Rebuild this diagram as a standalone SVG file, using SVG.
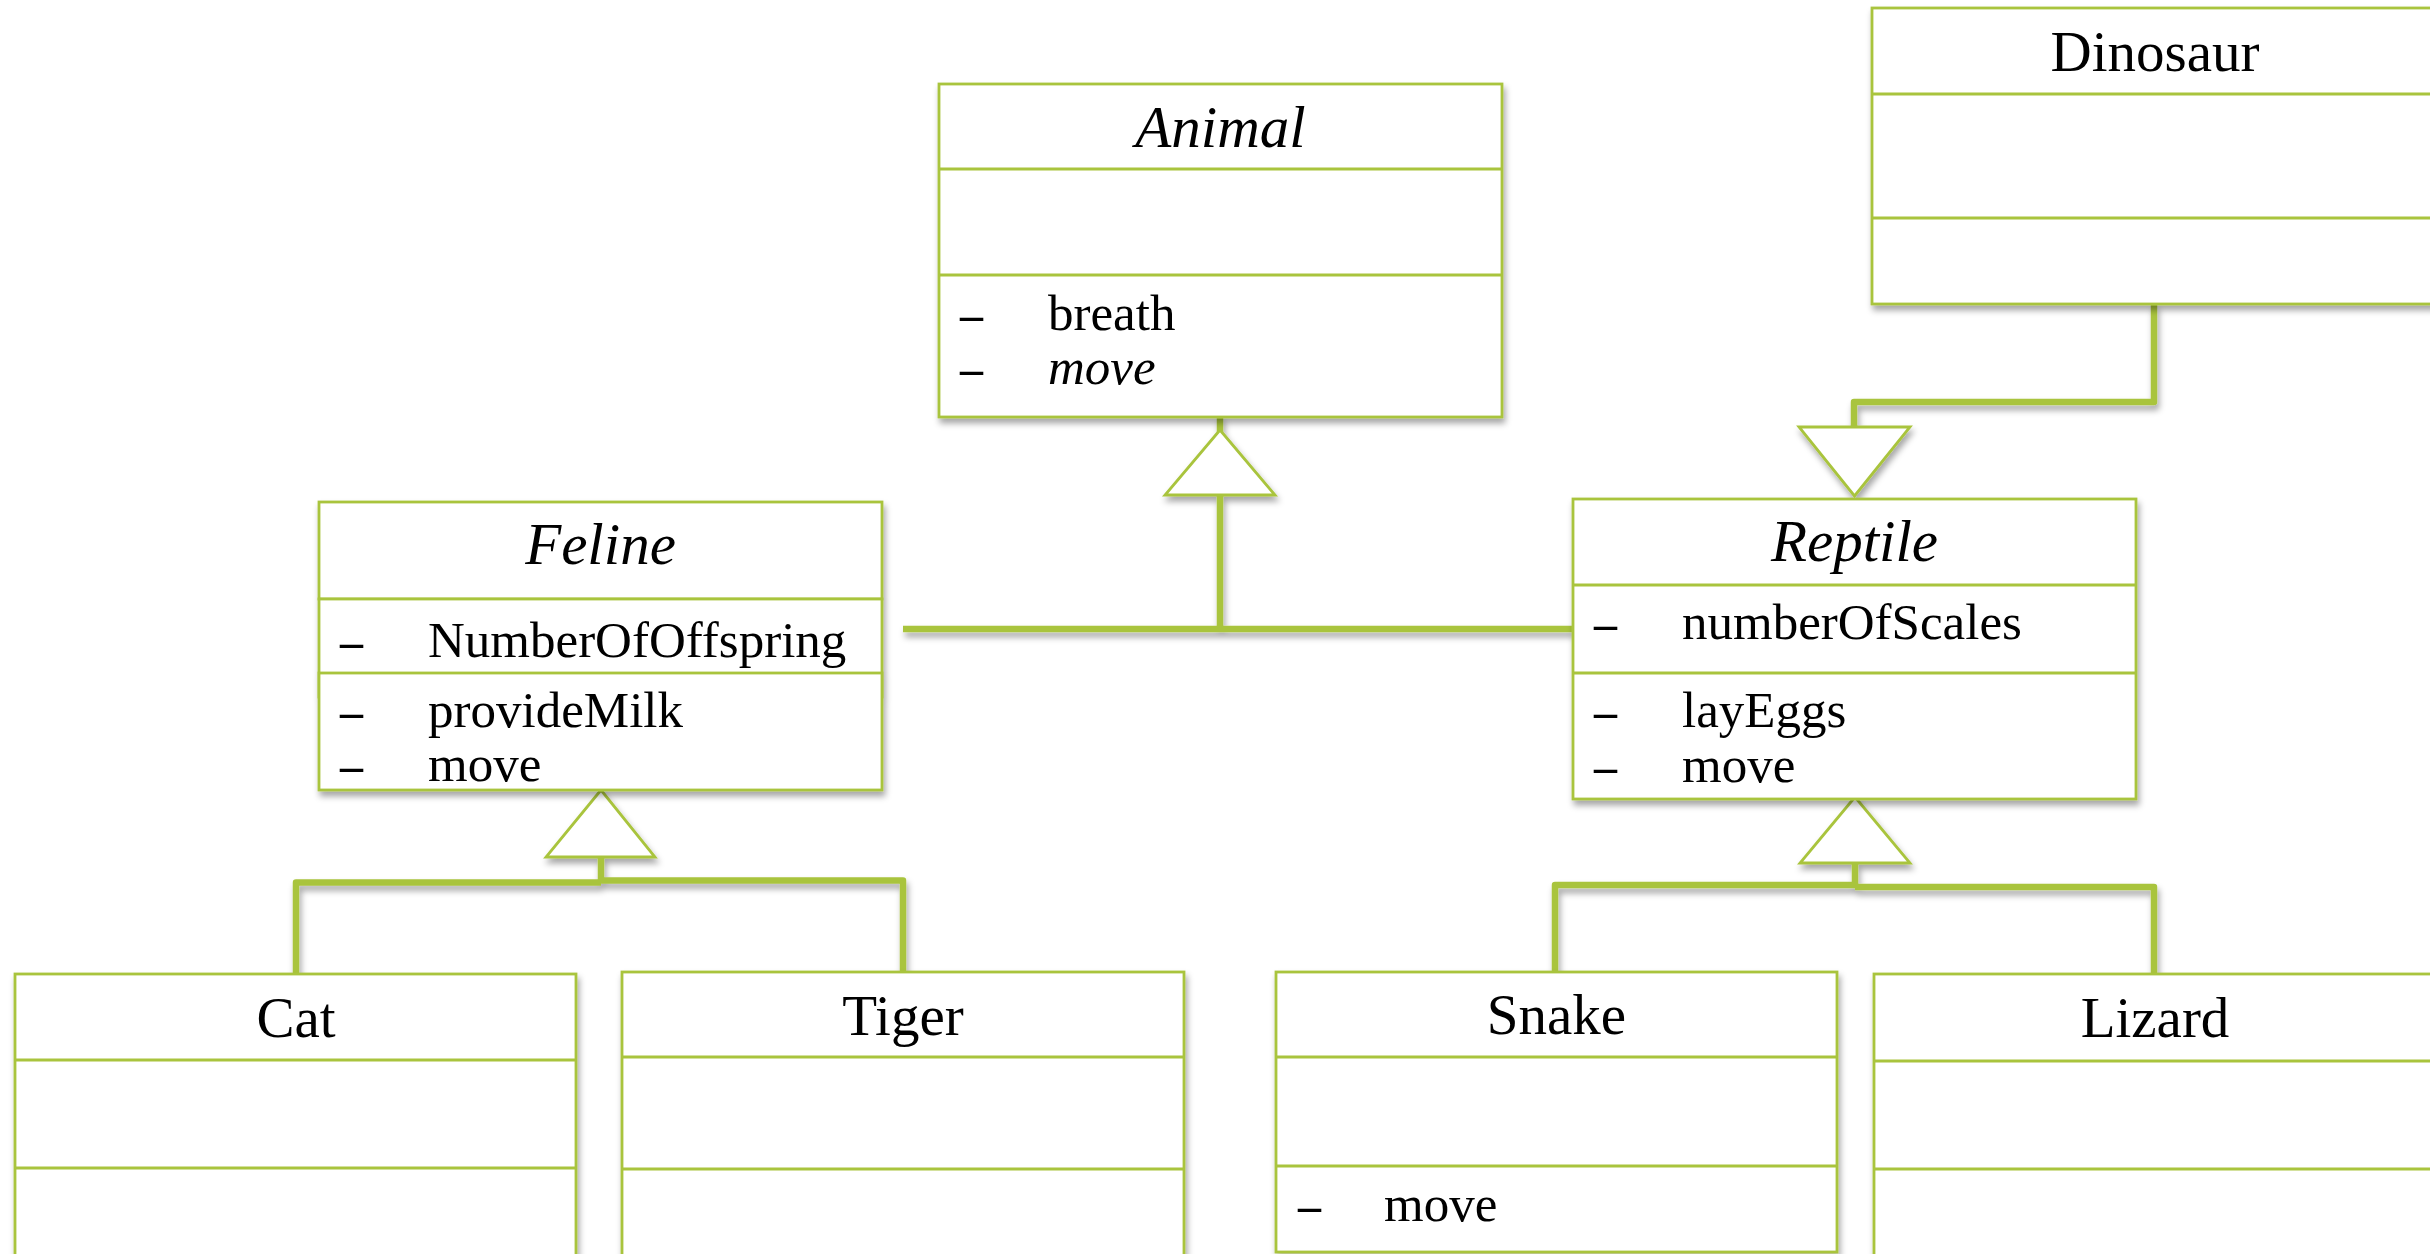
<svg xmlns="http://www.w3.org/2000/svg" width="2430" height="1254" viewBox="0 0 2430 1254">
  <defs>
    <filter id="shadow" x="-10%" y="-10%" width="120%" height="130%">
      <feDropShadow dx="2" dy="5" stdDeviation="3" flood-color="#000" flood-opacity="0.35"/>
    </filter>
    <style>
      .box { fill: #fff; stroke: #a9c43c; stroke-width: 2.8; }
      .div { stroke: #a9c43c; stroke-width: 3; }
      .wire { fill: none; stroke: #a9c43c; stroke-width: 6.5; stroke-linejoin: round; }
      .tri { fill: #fff; stroke: #a9c43c; stroke-width: 2.8; stroke-linejoin: miter; }
      .title { font-family: "Liberation Serif", "Times New Roman", serif; font-size: 57px; text-anchor: middle; fill: #000; }
      .abs { font-style: italic; font-size: 59px; }
      .mem { font-family: "Liberation Serif", "Times New Roman", serif; font-size: 51px; fill: #000; }
      .dash { font-weight: bold; font-size: 46px; }
    </style>
  </defs>

  <rect width="2430" height="1254" fill="#fff"/>

  <!-- generalization connectors -->
  <g id="connectors" filter="url(#shadow)">
    <!-- Feline / Reptile to Animal -->
    <path class="wire" d="M1220,416 V432"/>
    <path class="wire" d="M1220,494 V629 M903,629 H1573"/>
    <polygon class="tri" points="1220,430 1165,495 1275,495"/>
    <!-- Cat / Tiger to Feline -->
    <path class="wire" d="M601,856 V882 M296,974 V882.5 H601 M903,972 V880.5 H601"/>
    <polygon class="tri" points="601,790 546,857 655,857"/>
    <!-- Snake / Lizard to Reptile -->
    <path class="wire" d="M1855,862 V886 M1555,972 V885 H1855 M2154,974 V887 H1855"/>
    <polygon class="tri" points="1855,797 1800,863 1910,863"/>
    <!-- Dinosaur to Reptile -->
    <path class="wire" d="M2154,304 V402 H1854 V429"/>
    <polygon class="tri" points="1799,427 1910,427 1854.5,496"/>
  </g>

  <!-- Animal -->
  <g id="animal" filter="url(#shadow)">
    <rect class="box" x="939" y="84" width="563" height="333"/>
    <line class="div" x1="939" y1="169" x2="1502" y2="169"/>
    <line class="div" x1="939" y1="275" x2="1502" y2="275"/>
    <text class="title abs" x="1220.5" y="147">Animal</text>
    <text class="mem dash" x="960" y="330">–</text>
    <text class="mem" x="1048" y="330">breath</text>
    <text class="mem dash" x="960" y="384">–</text>
    <text class="mem" x="1048" y="384" font-style="italic">move</text>
  </g>

  <!-- Dinosaur -->
  <g id="dinosaur" filter="url(#shadow)">
    <rect class="box" x="1872" y="8" width="566" height="296"/>
    <line class="div" x1="1872" y1="94" x2="2438" y2="94"/>
    <line class="div" x1="1872" y1="218" x2="2438" y2="218"/>
    <text class="title" x="2155" y="71">Dinosaur</text>
  </g>

  <!-- Feline -->
  <g id="feline" filter="url(#shadow)">
    <rect class="box" x="319" y="502" width="563" height="97"/>
    <rect class="box" x="319" y="599" width="563" height="98"/>
    <rect class="box" x="319" y="673" width="563" height="117"/>
    <text class="title abs" x="600.5" y="564" font-size="58">Feline</text>
    <text class="mem dash" x="340" y="657">–</text>
    <text class="mem" x="428" y="657">NumberOfOffspring</text>
    <text class="mem dash" x="340" y="727">–</text>
    <text class="mem" x="428" y="727">provideMilk</text>
    <text class="mem dash" x="340" y="781">–</text>
    <text class="mem" x="428" y="781">move</text>
  </g>

  <!-- Reptile -->
  <g id="reptile" filter="url(#shadow)">
    <rect class="box" x="1573" y="499" width="563" height="300"/>
    <line class="div" x1="1573" y1="585" x2="2136" y2="585"/>
    <line class="div" x1="1573" y1="673" x2="2136" y2="673"/>
    <text class="title abs" x="1854.5" y="561" font-size="58">Reptile</text>
    <text class="mem dash" x="1594" y="639">–</text>
    <text class="mem" x="1682" y="639">numberOfScales</text>
    <text class="mem dash" x="1594" y="727">–</text>
    <text class="mem" x="1682" y="727">layEggs</text>
    <text class="mem dash" x="1594" y="782">–</text>
    <text class="mem" x="1682" y="782">move</text>
  </g>

  <!-- Cat -->
  <g id="cat" filter="url(#shadow)">
    <rect class="box" x="15" y="974" width="561" height="320"/>
    <line class="div" x1="15" y1="1060" x2="576" y2="1060"/>
    <line class="div" x1="15" y1="1168" x2="576" y2="1168"/>
    <text class="title" x="296" y="1037">Cat</text>
  </g>

  <!-- Tiger -->
  <g id="tiger" filter="url(#shadow)">
    <rect class="box" x="622" y="972" width="562" height="320"/>
    <line class="div" x1="622" y1="1057" x2="1184" y2="1057"/>
    <line class="div" x1="622" y1="1169" x2="1184" y2="1169"/>
    <text class="title" x="903" y="1035">Tiger</text>
  </g>

  <!-- Snake -->
  <g id="snake" filter="url(#shadow)">
    <rect class="box" x="1276" y="972" width="561" height="280"/>
    <line class="div" x1="1276" y1="1057" x2="1837" y2="1057"/>
    <line class="div" x1="1276" y1="1166" x2="1837" y2="1166"/>
    <text class="title" x="1556.5" y="1034">Snake</text>
    <text class="mem dash" x="1298" y="1221">–</text>
    <text class="mem" x="1384" y="1221">move</text>
  </g>

  <!-- Lizard -->
  <g id="lizard" filter="url(#shadow)">
    <rect class="box" x="1874" y="974" width="562" height="320"/>
    <line class="div" x1="1874" y1="1061" x2="2436" y2="1061"/>
    <line class="div" x1="1874" y1="1169" x2="2436" y2="1169"/>
    <text class="title" x="2155" y="1037">Lizard</text>
  </g>
</svg>
